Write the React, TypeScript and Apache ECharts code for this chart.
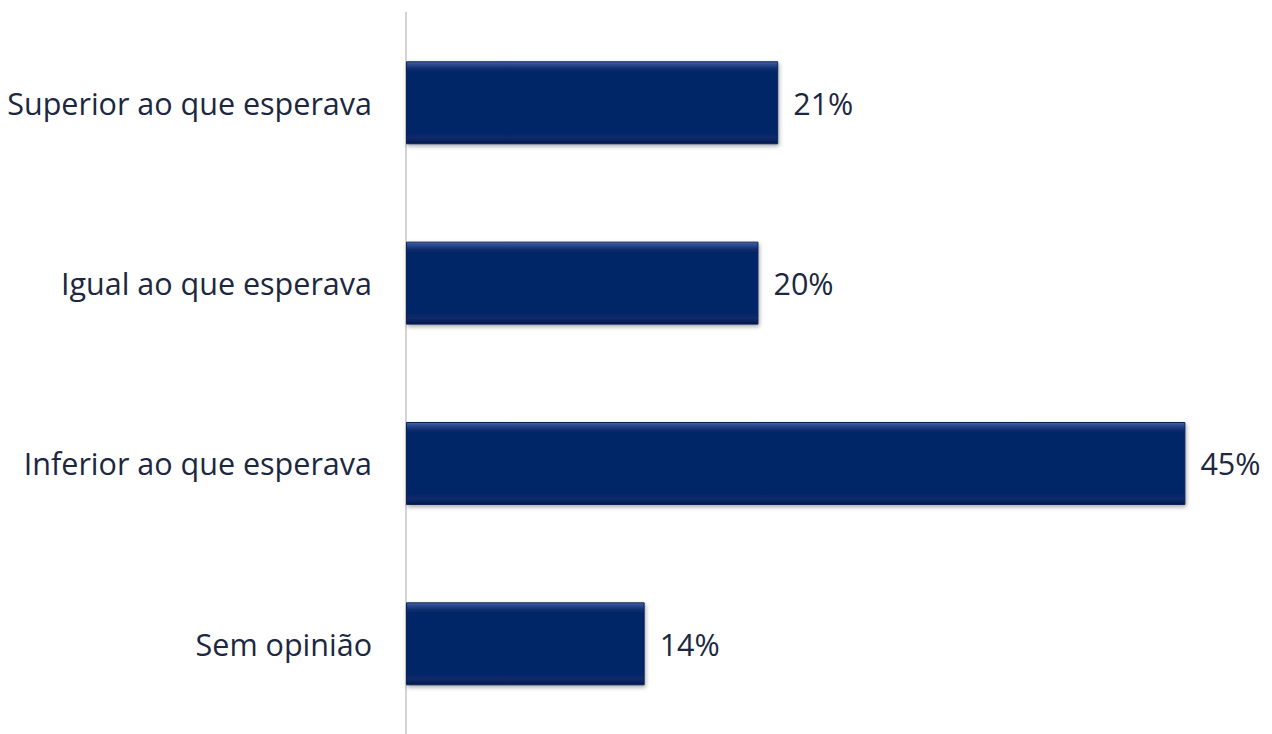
import React, { useEffect, useRef } from "react";
import * as echarts from "echarts";

const categories = ["Superior ao que esperava", "Igual ao que esperava", "Inferior ao que esperava", "Sem opinião"];
const values = [21.49, 20.35, 45.0, 13.78];

export default function App() {
  const ref = useRef<HTMLDivElement>(null);
  useEffect(() => {
    if (!ref.current) return;
    const chart = echarts.init(ref.current, undefined, { renderer: "svg" });
    const barGradient = new echarts.graphic.LinearGradient(0, 0, 0, 1, [
      { offset: 0, color: "#4a66a8" },
      { offset: 0.03, color: "#2d4c92" },
      { offset: 0.09, color: "#0c2b6c" },
      { offset: 0.12, color: "#062668" },
      { offset: 0.88, color: "#062668" },
      { offset: 0.93, color: "#0a2a6a" },
      { offset: 1, color: "#041a4c" },
    ]);
    chart.setOption({
      animation: false,
      backgroundColor: "#ffffff",
      grid: { left: 406, top: 12.6, width: 872, height: 727.3, containLabel: false },
      xAxis: {
        type: "value",
        min: 0,
        max: 50,
        show: false,
      },
      yAxis: {
        type: "category",
        data: categories,
        inverse: true,
        axisLine: { show: true, lineStyle: { color: "#d4d4d4", width: 2 } },
        axisTick: { show: false },
        axisLabel: {
          margin: 34,
          fontFamily: "Open Sans",
          fontSize: 30.5,
          color: "#1c2740",
        },
      },
      series: [
        {
          type: "bar",
          data: values,
          barCategoryGap: "54%",
          itemStyle: {
            color: barGradient,
            borderColor: "#0b2258",
            borderWidth: 1,
            shadowColor: "rgba(0,0,0,0.35)",
            shadowBlur: 4,
            shadowOffsetY: 2,
            shadowOffsetX: 1,
          },
          label: {
            show: true,
            position: "right",
            distance: 15,
            fontFamily: "Open Sans",
            fontSize: 30.5,
            color: "#1c2740",
            formatter: (p: any) => Math.round(p.value) + "%",
          },
        },
      ],
    });
    return () => chart.dispose();
  }, []);
  return (
    <div
      ref={ref}
      style={{ position: "fixed", left: 0, top: 0, width: 1272, height: 734 }}
    />
  );
}
